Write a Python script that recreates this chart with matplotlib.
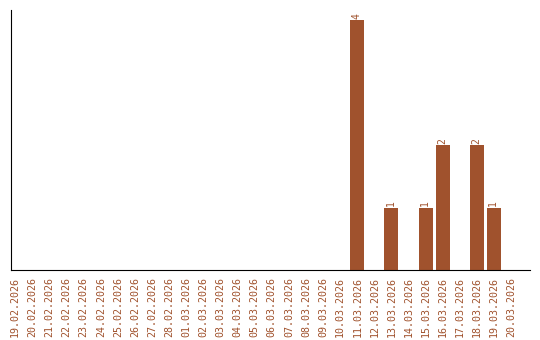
import matplotlib
matplotlib.use("Agg")
import matplotlib.pyplot as plt

# daty i liczby
dates = ["19.02.2026", "20.02.2026", "21.02.2026", "22.02.2026", "23.02.2026",
         "24.02.2026", "25.02.2026", "26.02.2026", "27.02.2026", "28.02.2026",
         "01.03.2026", "02.03.2026", "03.03.2026", "04.03.2026", "05.03.2026",
         "06.03.2026", "07.03.2026", "08.03.2026", "09.03.2026", "10.03.2026",
         "11.03.2026", "12.03.2026", "13.03.2026", "14.03.2026", "15.03.2026",
         "16.03.2026", "17.03.2026", "18.03.2026", "19.03.2026", "20.03.2026"]
counts = [0, 0, 0, 0, 0, 0, 0, 0, 0, 0,
          0, 0, 0, 0, 0, 0, 0, 0, 0, 0,
          4, 0, 1, 0, 1, 2, 0, 2, 1, 0]

color = "#A0522D"

fig = plt.figure(figsize=(5.4, 3.4), dpi=100)
ax = fig.add_axes([11 / 540, 70 / 340, 519 / 540, 260 / 340])

x = list(range(len(dates)))
bars = ax.bar(x, counts, width=0.82, color=color)

for xi, v in zip(x, counts):
    if v > 0:
        ax.text(xi - 0.05, v + 0.02, str(v), rotation=90, ha="center", va="bottom",
                color=color, fontsize=7, family="DejaVu Sans Mono")

ax.set_xlim(-0.25, 30.1)
ax.set_ylim(0, 4.16)
ax.set_xticks(x)
ax.set_xticklabels(dates, rotation=90, color=color, fontsize=7.2,
                   family="DejaVu Sans Mono")
ax.tick_params(axis="x", length=0, pad=5)
ax.set_yticks([])
ax.spines["top"].set_visible(False)
ax.spines["right"].set_visible(False)

fig.savefig("out.png", dpi=100)
